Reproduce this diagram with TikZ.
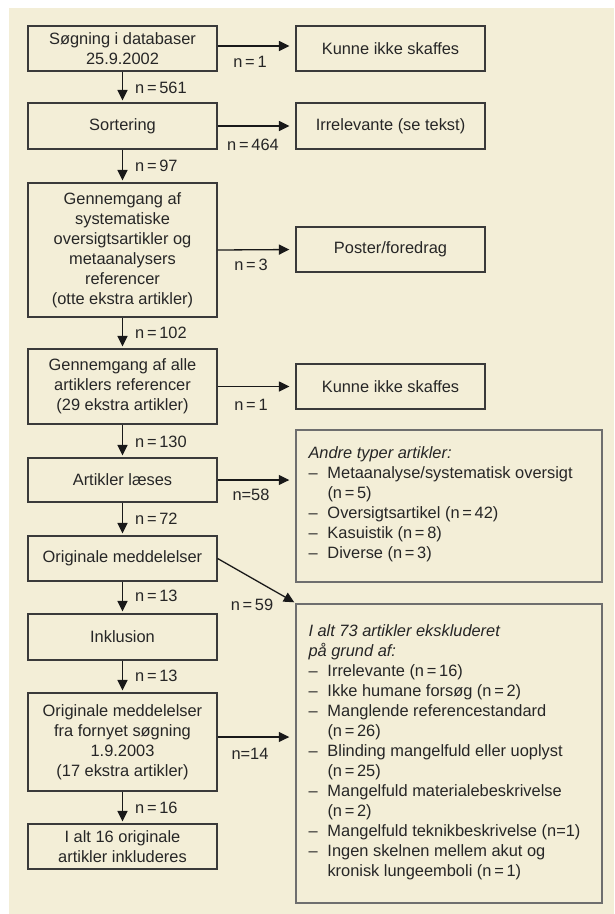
\documentclass[tikz,border=0pt]{standalone}
\usepackage{fontspec}
\setmainfont{Liberation Sans}
\usetikzlibrary{arrows.meta}
\definecolor{bg}{HTML}{F3EED7}
\definecolor{bd}{HTML}{3A3A3A}
\definecolor{bdl}{HTML}{6E6E6E}
\newcommand{\nq}{n\,=\,}
\newcommand{\dsh}{\makebox[19pt][l]{–}}
\newcommand{\ind}{\hspace*{19pt}}
\begin{document}
\begin{tikzpicture}[x=1pt,y=-1pt,
  font=\fontsize{16.4}{20}\selectfont,
  box/.style={draw=bd, line width=1.2pt, fill=bg, minimum width=189pt, align=center, inner sep=0pt, text=black!85},
  lst/.style={draw=bdl, line width=1.4pt, fill=bg, minimum width=306pt, inner sep=0pt},
  ltxt/.style={anchor=north west, align=left, inner sep=0pt, text=black!85},
  arr/.style={-{Triangle[length=10.5pt 0,width=10pt 0]}, line width=1.3pt, black!90},
  harr/.style={arr, shorten >=6pt},
  varr/.style={arr, shorten >=2pt},
  lab/.style={inner sep=0pt, text=black!85}]
\useasboundingbox (0,0) rectangle (614,914);
\fill[white] (0,0) rectangle (614,914);
\fill[bg] (9,8) rectangle (614,914);

% left column
\node[box, minimum height=45pt] (s1) at (122.5,48.5) {Søgning i databaser\\25.9.2002};
\node[box, minimum height=46pt] (sort) at (122.5,126) {Sortering};
\node[box, minimum height=134pt] (genn) at (122.5,250) {Gennemgang af\\systematiske\\oversigtsartikler og\\metaanalysers\\referencer\\(otte ekstra artikler)};
\node[box, minimum height=75pt] (alle) at (122.5,386.5) {Gennemgang af alle\\artiklers referencer\\(29 ekstra artikler)};
\node[box, minimum height=44pt] (art) at (122.5,480) {Artikler læses};
\node[box, minimum height=45pt] (orig) at (122.5,558.5) {Originale meddelelser};
\node[box, minimum height=46pt] (inkl) at (122.5,637) {Inklusion};
\node[box, minimum height=98pt] (forn) at (122.5,742) {Originale meddelelser\\fra fornyet søgning\\1.9.2003\\(17 ekstra artikler)};
\node[box, minimum height=45pt] (ialt) at (122.5,846.5) {I alt 16 originale\\artikler inkluderes};

% right column
\node[box, minimum height=45pt] (k1) at (390.5,48.5) {Kunne ikke skaffes};
\node[box, minimum height=46pt] (irr) at (390.5,126) {Irrelevante (se tekst)};
\node[box, minimum height=45pt] (post) at (390.5,249.5) {Poster/foredrag};
\node[box, minimum height=45pt] (k2) at (390.5,386.5) {Kunne ikke skaffes};
\node[lst, minimum height=152pt] (andre) at (449,506) {};
\node[lst, minimum height=299pt] (ekskl) at (449,753.5) {};

\node[ltxt] (andretxt) at ([shift={(13,17)}]andre.north west)
 {\textit{Andre typer artikler:}\\
  \dsh Metaanalyse/systematisk oversigt\\
  \ind(\nq5)\\
  \dsh Oversigtsartikel (\nq42)\\
  \dsh Kasuistik (\nq8)\\
  \dsh Diverse (\nq3)};
\node[ltxt] (eksktxt) at ([shift={(13,21)}]ekskl.north west)
 {\textit{I alt 73 artikler ekskluderet}\\
  \textit{på grund af:}\\
  \dsh Irrelevante (\nq16)\\
  \dsh Ikke humane forsøg (\nq2)\\
  \dsh Manglende referencestandard\\
  \ind(\nq26)\\
  \dsh Blinding mangelfuld eller uoplyst\\
  \ind(\nq25)\\
  \dsh Mangelfuld materialebeskrivelse\\
  \ind(\nq2)\\
  \dsh Mangelfuld teknikbeskrivelse (n=1)\\
  \dsh Ingen skelnen mellem akut og\\
  \ind kronisk lungeemboli (\nq1)};

% vertical arrows
\draw[varr] (s1) -- (sort);
\draw[varr] (sort) -- (genn);
\draw[varr] (genn) -- (alle);
\draw[varr] (alle) -- (art);
\draw[varr] (art) -- (orig);
\draw[varr] (orig) -- (inkl);
\draw[varr] (inkl) -- (forn);
\draw[varr] (forn) -- (ialt);

% horizontal arrows
\draw[harr] (s1.east |- 0,46) -- (k1.west |- 0,46);
\draw[harr] (sort.east) -- (irr.west);
\draw[harr] (genn.east) -- (post.west);
\draw[harr] (alle.east) -- (k2.west);
\draw[harr] (art.east) -- (andre.west |- art.east);
\coordinate (fa) at ([yshift=5]forn.east);
\draw[harr] (fa) -- (fa -| ekskl.west);
\draw[arr] (orig.east) -- ([shift={(-1,-1)}]ekskl.north west);

% labels
\node[lab] (l1) at (250,62) {\nq1};
\node[lab, anchor=west] (l561) at (135,88) {\nq561};
\node[lab] (l464) at (253,145) {\nq464};
\node[lab, anchor=west] (l97) at (135,166) {\nq97};
\node[lab] (l3) at (251,265) {\nq3};
\node[lab, anchor=west] (l102) at (135,333) {\nq102};
\node[lab] (l1b) at (251,405) {\nq1};
\node[lab, anchor=west] (l130) at (135,442) {\nq130};
\node[lab] (l58) at (251,495) {n=58};
\node[lab, anchor=west] (l72) at (135,519) {\nq72};
\node[lab] (l59) at (252,605) {\nq59};
\node[lab, anchor=west] (l13) at (135,596) {\nq13};
\node[lab, anchor=west] (l13b) at (135,676) {\nq13};
\node[lab] (l14) at (250,754) {n=14};
\node[lab, anchor=west] (l16) at (135,808) {\nq16};
\end{tikzpicture}
\end{document}
